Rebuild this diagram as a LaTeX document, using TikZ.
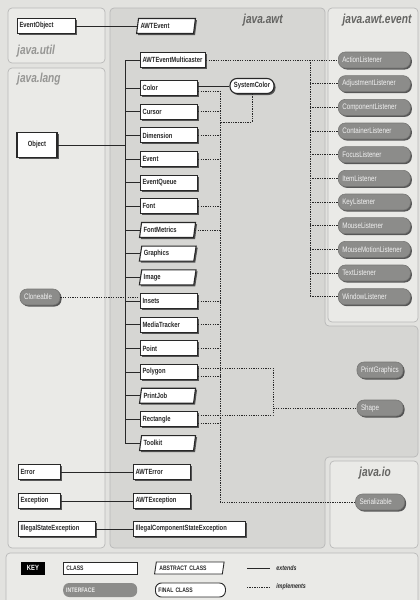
\documentclass[tikz,border=0pt]{standalone}
\usepackage{fontspec}
\setmainfont{Liberation Sans}
\newfontfamily\classfont[FakeStretch=0.78]{Liberation Sans}
\usetikzlibrary{shapes.geometric,shadows}

\definecolor{pageGray}{RGB}{226,226,223}
\definecolor{pkgGray}{RGB}{234,234,231}
\definecolor{awtGray}{RGB}{214,214,211}
\definecolor{ifaceGray}{RGB}{140,140,138}
\definecolor{inkGray}{RGB}{40,40,40}
\definecolor{utilGray}{RGB}{150,150,148}
\definecolor{awtLabelGray}{RGB}{100,100,98}

\begin{document}
\begin{tikzpicture}[x=1pt,y=-1pt,%%
  boxStyle/.style={font=\classfont\bfseries\fontsize{7.5}{8}\selectfont,text=inkGray,minimum height=15pt,inner xsep=2pt,inner ysep=1pt,drop shadow={shadow xshift=1.5pt,shadow yshift=-1.5pt,fill=black!80,opacity=0.8}},%%
  classStyle/.style={boxStyle,rectangle,draw=inkGray,line width=1.1pt,fill=white,text width=#1,align=left},%%
  classStyle/.default=53pt,%%
  abstractStyle/.style={boxStyle,trapezium,trapezium left angle=75,trapezium right angle=105,trapezium stretches body,draw=inkGray,line width=1.1pt,fill=white,text width=#1,align=left},%%
  abstractStyle/.default=48pt,%%
  interfaceStyle/.style={boxStyle,rectangle,rounded corners=7pt,fill=ifaceGray,draw=ifaceGray!85!black,line width=0.6pt,text=white!88!ifaceGray,font=\classfont\fontsize{8}{8}\selectfont,inner xsep=4pt,minimum height=16pt,text width=#1,align=left},%%
  interfaceStyle/.default=64pt,%%
  finalStyle/.style={boxStyle,rectangle,rounded corners=7pt,draw=inkGray,line width=1.1pt,fill=white,inner xsep=4pt,align=center},%%
  packageStyle/.style={draw=black!28,line width=0.7pt,rounded corners=4pt},%%
  labelStyle/.style={font=\classfont\bfseries\itshape\fontsize{13}{13}\selectfont,inner sep=0pt},%%
  extendsStyle/.style={draw=inkGray,line width=0.9pt},%%
  implementsStyle/.style={draw=inkGray,line width=0.9pt,dash pattern=on 1.3pt off 1.1pt},%%
  keyStyle/.style={font=\classfont\bfseries\fontsize{6.5}{7}\selectfont,text=inkGray,align=left,minimum height=12pt,inner xsep=3pt,inner ysep=1pt},%%
  legendStyle/.style={font=\classfont\bfseries\itshape\fontsize{6.8}{7}\selectfont,text=inkGray,inner sep=0pt}%%
]
%%
%%
\pgfmathsetmacro{\dy}{23.67}
\pgfmathsetmacro{\ytop}{88}
\pgfmathsetmacro{\ylst}{60}
%%
\fill[pageGray] (0,0) rectangle (420,600);
\useasboundingbox (0,0) rectangle (420,600);
%%
%% Draw the package frames.
\draw[packageStyle,fill=pkgGray] (8,8) rectangle (105,63);
\draw[packageStyle,fill=pkgGray] (8,68) rectangle (105,548);
\draw[packageStyle,fill=awtGray] (110,8) -- (325,8) -- (325,326) -- (418,326)
  -- (418,457) -- (325,457) -- (325,548) -- (110,548) -- cycle;
\draw[packageStyle,fill=pkgGray] (328,8) rectangle (418,322);
\draw[packageStyle,fill=pkgGray] (330,461) rectangle (418,548);
\draw[packageStyle,fill=pkgGray] (6,553) rectangle (418,606);
%% Label the packages.
\node[labelStyle,anchor=west,text=utilGray] (utilLabel) at (17,51) {java.util};
\node[labelStyle,anchor=west,text=utilGray] (langLabel) at (17,79) {java.lang};
\node[labelStyle,anchor=west,text=awtLabelGray] (awtLabel) at (243,20) {java.awt};
\node[labelStyle,text=awtLabelGray] (eventLabel) at (377,20) {java.awt.event};
\node[labelStyle,text=awtLabelGray] (ioLabel) at (375,473) {java.io};
%%
%% Classes outside java.awt.
\node[classStyle=54pt,anchor=west] (EventObject) at (17,26) {EventObject};
\node[classStyle=36pt,align=center,minimum height=25pt] (Object) at (37,145) {Object};
\node[interfaceStyle=32pt] (Cloneable) at (40,297) {Cloneable};
\node[classStyle=38pt,anchor=west] (Error) at (18,472) {Error};
\node[classStyle=38pt,anchor=west] (Exception) at (18,501) {Exception};
\node[classStyle=73pt,anchor=west] (IllegalStateException) at (18,529) {IllegalStateException};
%%
%% The java.awt classes.
\node[abstractStyle=51pt,anchor=west] (AWTEvent) at (137,26) {AWTEvent};
\node[classStyle=61pt,anchor=west] (AWTEventMulticaster) at (140,\ylst) {AWTEventMulticaster};
\coordinate (treeTop) at (125,\ylst);
\coordinate (treeBot) at (125,443);
\draw[extendsStyle] (treeTop) -- (treeBot);
\draw[extendsStyle] (treeTop) -- (AWTEventMulticaster.west);
\draw[extendsStyle] (Object.east) -- (Object.east -| treeTop);
\foreach \cls/\kind [count=\i from 0] in {Color/classStyle,Cursor/classStyle,%%
  Dimension/classStyle,Event/classStyle,EventQueue/classStyle,Font/classStyle,%%
  FontMetrics/abstractStyle,Graphics/abstractStyle,Image/abstractStyle,%%
  Insets/classStyle,MediaTracker/classStyle,Point/classStyle,Polygon/classStyle,%%
  PrintJob/abstractStyle,Rectangle/classStyle,Toolkit/abstractStyle}{%%
  \node[\kind,anchor=west] (\cls) at (140,{\ytop+\i*\dy}) {\cls};
  \draw[extendsStyle] (\cls.west -| treeTop) -- (\cls.west);
}
\node[finalStyle] (SystemColor) at (252,86) {SystemColor};
\node[classStyle,anchor=west] (AWTError) at (133,472) {AWTError};
\node[classStyle,anchor=west] (AWTException) at (133,501) {AWTException};
\node[classStyle=108pt,anchor=west] (IllegalComponentStateException) at (133,529) {IllegalComponentStateException};
\node[interfaceStyle=38pt] (PrintGraphics) at (380,370) {PrintGraphics};
\node[interfaceStyle=38pt] (Shape) at (380,408) {Shape};
%%
%% The listener interfaces.
\foreach \ifc [count=\i from 0] in {ActionListener,AdjustmentListener,%%
  ComponentListener,ContainerListener,FocusListener,ItemListener,KeyListener,%%
  MouseListener,MouseMotionListener,TextListener,WindowListener}{%%
  \node[interfaceStyle,anchor=west] (\ifc) at (338,{\ylst+\i*\dy}) {\ifc};
}
\node[interfaceStyle=41pt] (Serializable) at (380,502) {Serializable};
%%
%% Solid lines: extends.
\draw[extendsStyle] (EventObject.east) -- (AWTEvent.west);
\draw[extendsStyle] ([yshift=2pt]Color.east) -- (SystemColor.west);
\draw[extendsStyle] (Error.east) -- (AWTError.west);
\draw[extendsStyle] (Exception.east) -- (AWTException.west);
\draw[extendsStyle] (IllegalStateException.east) -- (IllegalComponentStateException.west);
%%
%% Dashed lines: implements.
\coordinate (lstBus) at (310,\ylst);
\draw[implementsStyle] (AWTEventMulticaster.east) -- (ActionListener.west);
\draw[implementsStyle] (lstBus) -- (lstBus |- WindowListener.west);
\foreach \ifc in {AdjustmentListener,ComponentListener,ContainerListener,%%
  FocusListener,ItemListener,KeyListener,MouseListener,MouseMotionListener,%%
  TextListener,WindowListener}{%%
  \draw[implementsStyle] (\ifc.west -| lstBus) -- (\ifc.west);
}
\coordinate (serTop) at (220,91);
\draw[implementsStyle] (serTop) |- (Serializable.west);
\draw[implementsStyle] ([yshift=-3pt]Color.east) -- (serTop);
\foreach \cls in {Cursor,Dimension,Event,Font,FontMetrics,Insets,MediaTracker,Point}{%%
  \draw[implementsStyle] (\cls.east) -- (\cls.east -| serTop);
}
\draw[implementsStyle] ([yshift=-4pt]Polygon.east) -- ([yshift=-4pt]Polygon.east -| serTop);
\draw[implementsStyle] ([yshift=-4pt]Rectangle.east) -- ([yshift=-4pt]Rectangle.east -| serTop);
\coordinate (sysJoin) at (220,122);
\draw[implementsStyle] (SystemColor.south) |- (sysJoin);
\coordinate (shapeBus) at (273,408);
\draw[implementsStyle] ([yshift=4pt]Polygon.east) -| (shapeBus) -- (Shape.west);
\draw[implementsStyle] ([yshift=4pt]Rectangle.east) -| (shapeBus);
\draw[implementsStyle] (Cloneable.east) -- (Cloneable.east -| Insets.west);
%%
%% The key.
\node[fill=black,text=white,font=\classfont\bfseries\fontsize{7.5}{8}\selectfont,minimum width=24pt,minimum height=13pt,inner sep=1pt] (keyTag) at (33,568) {KEY};
\node[keyStyle,rectangle,draw=inkGray,line width=0.7pt,fill=white,text width=68pt,anchor=west] (keyClass) at (63,568) {CLASS};
\node[keyStyle,rectangle,rounded corners=6pt,fill=ifaceGray,text=white!85!ifaceGray,text width=68pt,minimum height=14pt,anchor=west] (keyInterface) at (63,590) {INTERFACE};
\node[keyStyle,trapezium,trapezium left angle=75,trapezium right angle=105,trapezium stretches body,draw=inkGray,line width=0.9pt,fill=white,text width=60pt,anchor=west] (keyAbstract) at (155,568) {ABSTRACT CLASS};
\node[keyStyle,rectangle,rounded corners=6pt,draw=inkGray,line width=0.9pt,fill=white,text width=64pt,minimum height=14pt,anchor=west] (keyFinal) at (155,590) {FINAL CLASS};
\coordinate (extA) at (247,568);
\coordinate (extB) at (270,568);
\draw[extendsStyle] (extA) -- (extB) node[legendStyle,right=6pt] (extText) {extends};
\coordinate (impA) at (247,587);
\coordinate (impB) at (270,587);
\draw[implementsStyle] (impA) -- (impB) node[legendStyle,right=6pt] (impText) {implements};
\end{tikzpicture}
\end{document}
